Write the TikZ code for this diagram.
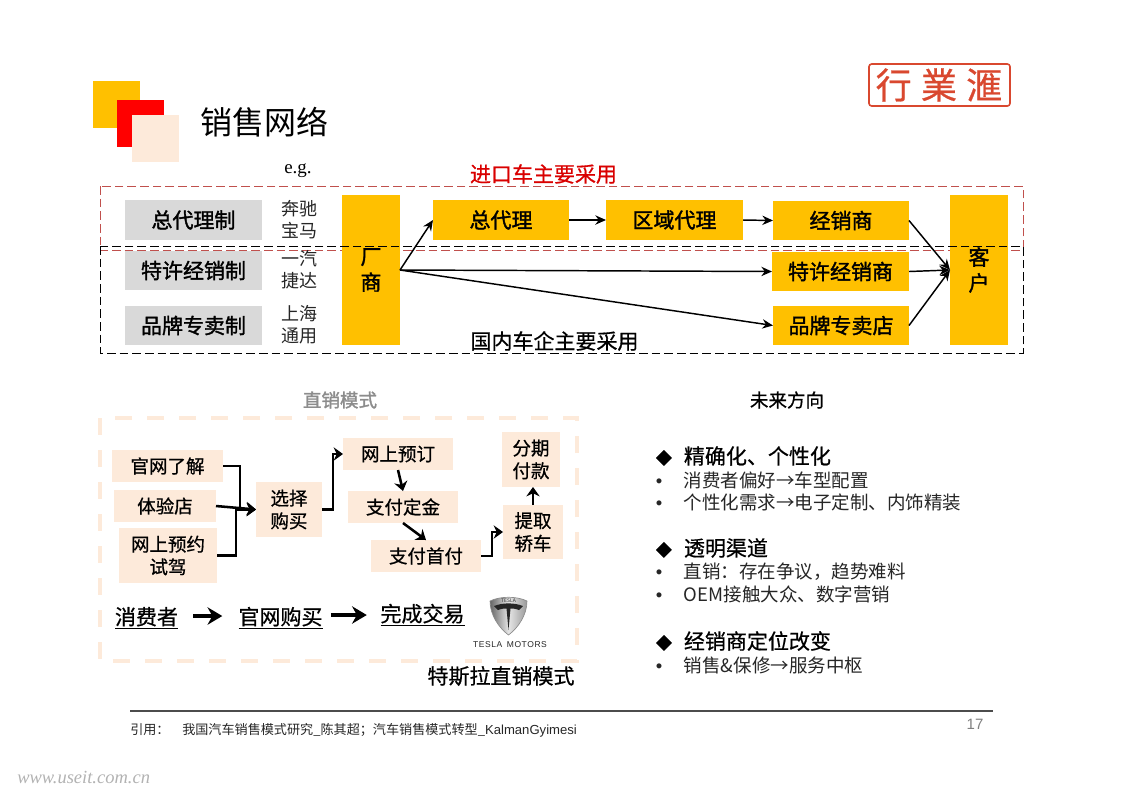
\documentclass[tikz,border=0pt]{standalone}
\usepackage{fontspec}
\setmainfont{Noto Sans CJK SC}
\newfontfamily\lat{Liberation Serif}
\newfontfamily\lsans{Liberation Sans}
\newfontfamily\fbold[FakeBold=1.6]{Noto Sans CJK SC}
\newfontfamily\fmid[FakeBold=0.7]{Noto Sans CJK SC}
\usetikzlibrary{arrows.meta}
\definecolor{gold}{HTML}{FFC000}
\definecolor{peach}{HTML}{FDEADA}
\definecolor{graybox}{HTML}{D9D9D9}
\definecolor{dred}{HTML}{C0504D}
\definecolor{seal}{HTML}{D9482F}
\makeatletter
\newcommand\sz[1]{\pgfmathsetmacro\my@s{#1*0.75}\pgfmathsetmacro\my@b{#1*0.92}\fontsize{\my@s pt}{\my@b pt}\selectfont}
\newcommand\bx[7]{\pgfmathsetmacro\bxcx{(#3+#5)/2}\pgfmathsetmacro\bxcy{(#4+#6)/2}\pgfmathsetmacro\bxw{(#5-#3)*.75}\pgfmathsetmacro\bxh{(#6-#4)*.75}\node[#1,minimum width=\bxw pt,minimum height=\bxh pt] (#2) at (\bxcx,\bxcy) {#7};}
\makeatother
\newcommand\bl{\makebox[21.5pt][l]{\hspace{0.5pt}{\lsans •}}}
\newcommand\dm{\makebox[21.5pt][l]{\hspace{0.5pt}\sz{16}◆}}
\tikzset{
 basebox/.style={inner sep=0pt,outer sep=0pt,align=center,text=black},
 graylabel/.style={basebox,fill=graybox,font=\fbold\sz{21}},
 yellowbox/.style={basebox,fill=gold,font=\fbold\sz{21}},
 peachbox/.style={basebox,fill=peach,font=\fmid\sz{18.5}},
 brand/.style={inner sep=0pt,align=center,font=\sz{18},text=black!85},
 conn/.style={-{Stealth[length=8pt,width=7pt]},line width=1.1pt},
 elbow/.style={-{Stealth[length=7pt,width=10pt]},line width=1.9pt},
 fat/.style={-{Stealth[length=11pt,width=13pt]},line width=2.6pt},
 thead/.style={inner sep=0pt,anchor=west,font=\fmid\sz{21}},
 bul/.style={inner sep=0pt,anchor=west,font=\sz{18.5},text=black!85},
 band/.style={dash pattern=on 6.5pt off 3pt,line width=.7pt},
}
\begin{document}
\begin{tikzpicture}[x=0.75pt,y=-0.75pt]
\useasboundingbox (0,0) rectangle (1123,794);
% header squares
\fill[gold] (93,81) rectangle (140,128);
\fill[red] (117,100) rectangle (164,147);
\fill[peach] (132,115) rectangle (179,162);
\node[inner sep=0pt,anchor=west,font=\sz{32}] (title) at (200,122) {销售网络};
% seal
\draw[seal,line width=1.2pt,rounded corners=2pt] (869,64) rectangle (1010,106);
\node[inner sep=0pt,font=\fmid\sz{36},text=seal] (seal) at (939,85) {行\hspace{7pt}業\hspace{7pt}滙};
\node[inner sep=0pt,font=\lat\sz{19}] (eg) at (298,171) {e.g.};
% dashed band, import
\draw[dred,band] (100,186) rectangle (1023,250);
\node[inner sep=0pt,font=\fmid\sz{21},text=red!85!black] (imp) at (543.5,174) {进口车主要采用};
% left labels
\bx{graylabel}{l1}{125}{200}{262}{240}{总代理制}
\bx{graylabel}{l2}{125}{251}{262}{290}{特许经销制}
\bx{graylabel}{l3}{125}{306}{262}{345}{品牌专卖制}
\node[brand] (b1) at (299,220) {奔驰\\宝马};
\node[brand] (b2) at (299,270) {一汽\\捷达};
\node[brand] (b3) at (299,325) {上海\\通用};
% main flow
\bx{yellowbox}{cs}{342}{195}{400}{345}{厂\\商}
\bx{yellowbox}{zdl}{433}{200}{569}{240}{总代理}
\bx{yellowbox}{qy}{606}{200}{743}{240}{区域代理}
\bx{yellowbox}{jxs}{773}{201}{909}{240}{经销商}
\bx{yellowbox}{tx}{772}{252}{909}{291}{特许经销商}
\bx{yellowbox}{pp}{773}{306}{909}{345}{品牌专卖店}
\bx{yellowbox}{kh}{950}{195}{1008}{345}{客\\户}
\draw[conn] (cs.east) -- (zdl.west);
\draw[conn] (cs.east) -- (tx.west);
\draw[conn] (cs.east) -- (pp.west);
\draw[conn] (zdl.east) -- (qy.west);
\draw[conn] (qy.east) -- (jxs.west);
\draw[conn] (jxs.east) -- (kh.west);
\draw[conn] (tx.east) -- (kh.west);
\draw[conn] (pp.east) -- (kh.west);
\draw[black,band] (100,246) rectangle (1023,353);
\node[inner sep=0pt,font=\fmid\sz{21},text=black] (dom) at (554.5,341) {国内车企主要采用};
% section heads
\node[inner sep=0pt,font=\fbold\sz{18.5},text=black!45] (zx) at (340,400) {直销模式};
\node[inner sep=0pt,font=\fmid\sz{18.5}] (wl) at (787,400) {未来方向};
% Tesla panel
\draw[peach,line width=2.6pt,dash pattern=on 13pt off 11pt] (100,418) rectangle (577,661);
\bx{peachbox}{gw}{112}{450}{223}{482}{官网了解}
\bx{peachbox}{ty}{114}{490}{216}{522}{体验店}
\bx{peachbox}{yy}{119}{528}{217}{583}{网上预约\\试驾}
\bx{peachbox}{xz}{256}{482}{322}{537}{选择\\购买}
\bx{peachbox}{yd}{343}{438}{453}{470}{网上预订}
\bx{peachbox}{dj}{348}{491}{458}{523}{支付定金}
\bx{peachbox}{sf}{371}{540}{481}{572}{支付首付}
\bx{peachbox}{tq}{503}{505}{563}{559}{提取\\轿车}
\bx{peachbox}{fq}{502}{432}{560}{487}{分期\\付款}
\draw[elbow] (gw.east) -- ++(17,0) |- (xz.west);
\draw[elbow] (ty.east) -- (xz.west);
\draw[elbow] (yy.east) -- ++(19,0) |- (xz.west);
\draw[elbow] (xz.east) -- ++(11,0) |- (yd.west);
\draw[elbow] (yd.south) -- (dj.north);
\draw[elbow] (dj.south) -- (sf.north);
\draw[elbow] (sf.east) -- ++(11,0) |- (tq.west);
\draw[elbow] (tq.north) -- (fq.south -| tq.north);
\node[inner sep=0pt,font=\fmid\sz{21}] (xf) at (146.5,618) {\underline{消费者}};
\node[inner sep=0pt,font=\fmid\sz{21}] (gm) at (280.5,618) {\underline{官网购买}};
\node[inner sep=0pt,font=\fmid\sz{21}] (wc) at (422.5,615) {\underline{完成交易}};
\draw[fat] (xf.east) ++(15,-2) -- ++(29,0);
\draw[fat] (gm.east) ++(8,-3) -- ++(36,0);
% Tesla logo
\path[left color=black!60,right color=black!40,middle color=black!10,draw=black!45,line width=.5pt]
 (490,601) .. controls (500,596) and (517,596) .. (527,601) .. controls (527,615) and (518,628) .. (508.5,635) .. controls (499,628) and (490,615) .. (490,601) -- cycle;
\fill[black!85] (494,606) .. controls (503,602.5) and (514,602.5) .. (523,606) -- (519,610) .. controls (515,608.5) and (513,608.5) .. (510.5,608.5) -- (508.5,630) -- (506.5,608.5) .. controls (504,608.5) and (502,608.5) .. (498,610) -- cycle;
\node[inner sep=0pt,font=\sz{5},text=black!80] (ts) at (508.5,601) {TESLA};
\node[inner sep=0pt,font=\lsans\sz{8.5},text=black!85] (tm) at (510,645) {T\kern.4pt E\kern.4pt S\kern.4pt L\kern.4pt A\; M\kern.4pt O\kern.4pt T\kern.4pt O\kern.4pt R\kern.4pt S};
\node[inner sep=0pt,font=\fmid\sz{21}] (tsl) at (501,676) {特斯拉直销模式};
% right column
\node[thead] (h1) at (655,456) {\dm 精确化、个性化};
\node[bul] (a1) at (655,480) {\bl 消费者偏好→车型配置};
\node[bul] (a2) at (655,502) {\bl 个性化需求→电子定制、内饰精装};
\node[thead] (h2) at (655,548) {\dm 透明渠道};
\node[bul] (a3) at (655,572) {\bl 直销：存在争议，趋势难料};
\node[bul] (a4) at (655,594) {\bl OEM接触大众、数字营销};
\node[thead] (h3) at (655,641) {\dm 经销商定位改变};
\node[bul] (a5) at (655,665) {\bl 销售\&保修→服务中枢};
% footer
\draw[black!70,line width=.9pt] (130,711) -- (993,711);
\node[inner sep=0pt,anchor=west,font=\sz{13.1},text=black!85] (yy1) at (130,730) {引用：};
\node[inner sep=0pt,anchor=west,font=\sz{13.1},text=black!85] (yy2) at (182,730) {我国汽车销售模式研究\_陈其超；汽车销售模式转型\_{\lsans KalmanGyimesi}};
\node[inner sep=0pt,font=\lsans\sz{15},text=black!50] (pg) at (975,724) {17};
\node[inner sep=0pt,anchor=west,font=\lat\itshape\sz{18.5},text=black!30] (wm) at (17,777) {www.useit.com.cn};
\end{tikzpicture}
\end{document}
